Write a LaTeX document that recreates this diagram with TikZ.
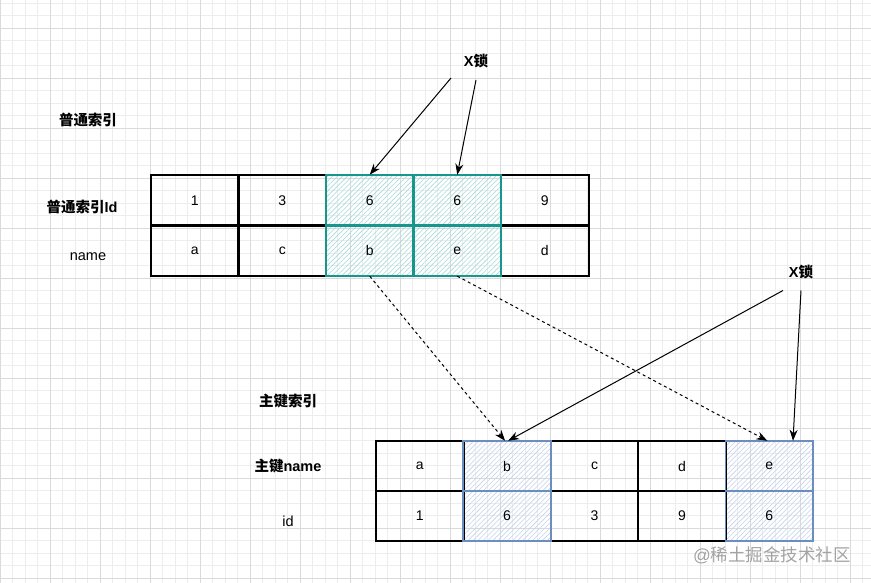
\documentclass[tikz,border=0pt]{standalone}
\usepackage{fontspec}
\setmainfont{Liberation Sans}
\newfontfamily\cjk{Noto Sans CJK SC}
\usetikzlibrary{arrows.meta,patterns.meta}
\definecolor{tealb}{HTML}{17968E}
\definecolor{tealh}{HTML}{A6DADA}
\definecolor{blueb}{HTML}{6C8EBF}
\definecolor{blueh}{HTML}{C4D3EC}
\definecolor{gridminor}{HTML}{EDEDED}
\definecolor{gridmajor}{HTML}{DADADA}
\definecolor{wm}{HTML}{A3A3A3}
\begin{document}
\begin{tikzpicture}[x=1pt,y=-1pt,
  cell/.style={minimum width=87.5pt,minimum height=50.5pt,inner sep=0pt,font=\fontsize{14}{16}\selectfont},
  bcell/.style={cell,minimum width=87.4pt,minimum height=50pt},
  hteal/.style={pattern={Lines[angle=45,distance=3.5pt,line width=0.6pt]},pattern color=tealh},
  hblue/.style={pattern={Lines[angle=45,distance=3.5pt,line width=0.6pt]},pattern color=blueh},
  cellline/.style={line width=1.8pt},
  lab/.style={inner sep=0pt,font=\fontsize{14.5}{16}\selectfont},
  blab/.style={lab,font=\fontsize{14.5}{16}\selectfont\bfseries},
  arr/.style={-{Stealth[length=11pt,width=8pt]},line width=1pt},
  darr/.style={arr,dash pattern=on 3pt off 3pt}]
\useasboundingbox (0,0) rectangle (871,583);
\fill[white] (0,0) rectangle (871,583);
% grid
\foreach \i in {0,...,69} \draw[gridminor,line width=0.7pt] (\i*12.5,0) -- (\i*12.5,583);
\foreach \j in {0,...,46} \draw[gridminor,line width=0.7pt] (0,3+\j*12.5) -- (871,3+\j*12.5);
\foreach \i in {0,...,17} \draw[gridmajor,line width=0.8pt] (\i*50,0) -- (\i*50,583);
\foreach \j in {0,...,11} \draw[gridmajor,line width=0.8pt] (0,28+\j*50) -- (871,28+\j*50);
% labels
\node[blab] (l1) at (88,120) {\cjk 普通索引};
\node[blab] (l2) at (82,207) {{\cjk 普通索引}Id};
\node[lab] (l3) at (88,257) {name};
\node[blab] (l4) at (288,401) {\cjk 主键索引};
\node[blab] (l5) at (288,466) {{\cjk 主键}name};
\node[lab] (l6) at (288,521) {id};
\node[blab] (x1) at (476,61) {X{\cjk 锁}};
\node[blab] (x2) at (801,272) {X{\cjk 锁}};
% top table
\node[cell] (t1) at (194.75,200.25) {1};
\node[cell] (t2) at (282.25,200.25) {3};
\node[cell,hteal] (t3) at (369.75,200.25) {6};
\node[cell,hteal] (t4) at (457.25,200.25) {6};
\node[cell] (t5) at (544.75,200.25) {9};
\node[cell] (n1) at (194.75,250.75) {a};
\node[cell] (n2) at (282.25,250.75) {c};
\node[cell,hteal] (n3) at (369.75,250.75) {b};
\node[cell,hteal] (n4) at (457.25,250.75) {e};
\node[cell] (n5) at (544.75,250.75) {d};
% bottom table
\node[bcell] (b1) at (419.7,466) {a};
\node[bcell,hblue] (b2) at (507.1,466) {b};
\node[bcell] (b3) at (594.5,466) {c};
\node[bcell] (b4) at (681.9,466) {d};
\node[bcell,hblue] (b5) at (769.3,466) {e};
\node[bcell] (i1) at (419.7,516) {1};
\node[bcell,hblue] (i2) at (507.1,516) {6};
\node[bcell] (i3) at (594.5,516) {3};
\node[bcell] (i4) at (681.9,516) {9};
\node[bcell,hblue] (i5) at (769.3,516) {6};
% borders, drawn over all fills
\foreach \n in {t1,t2,t5,n1,n2,n5,b1,b3,b4,i1,i3,i4}
  \draw[cellline,draw=black] (\n.south west) rectangle (\n.north east);
\foreach \n in {t3,t4,n3,n4}
  \draw[cellline,draw=tealb] (\n.south west) rectangle (\n.north east);
\foreach \n in {b2,b5,i2,i5}
  \draw[cellline,draw=blueb] (\n.south west) rectangle (\n.north east);
% arrow starts
\coordinate (s1) at (451,78);
\coordinate (s2) at (476,80);
\coordinate (s3) at (783,290.5);
\coordinate (s4) at (801,290.5);
\draw[arr] (s1) -- (t3.north);
\draw[arr] (s2) -- (t4.north);
\draw[arr] (s3) -- ([xshift=1pt]b2.north);
\draw[arr] (s4) -- ([xshift=23.7pt]b5.north);
\draw[darr] (n3.south) -- ([xshift=-2pt]b2.north);
\draw[darr] (n4.south) -- ([xshift=-2pt]b5.north);
% watermark
\node[inner sep=0pt,text=wm,font=\fontsize{17.5}{20}\selectfont] (wm) at (772,555) {@{\cjk 稀土掘金技术社区}};
\end{tikzpicture}
\end{document}
